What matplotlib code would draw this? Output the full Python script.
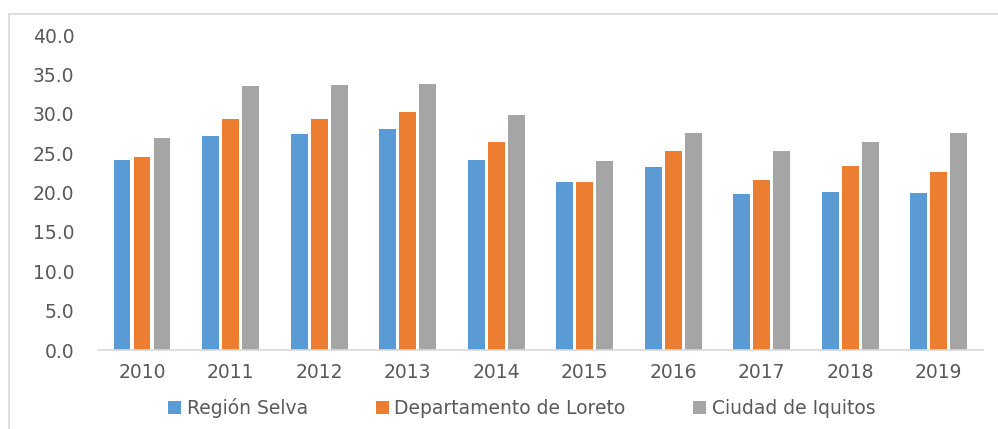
import matplotlib
matplotlib.use("Agg")
import matplotlib.pyplot as plt
import numpy as np
from matplotlib.lines import Line2D

years = ["2010", "2011", "2012", "2013", "2014", "2015", "2016", "2017", "2018", "2019"]
region_selva = [24.2, 27.2, 27.4, 28.1, 24.2, 21.3, 23.2, 19.8, 20.1, 19.9]
loreto = [24.5, 29.3, 29.3, 30.2, 26.4, 21.3, 25.3, 21.6, 23.4, 22.6]
iquitos = [26.9, 33.5, 33.7, 33.8, 29.9, 24.0, 27.6, 25.3, 26.4, 27.6]
series_names = ["Región Selva", "Departamento de Loreto", "Ciudad de Iquitos"]
colors = ["#5B9BD5", "#ED7D31", "#A5A5A5"]

plt.rcParams['font.family'] = ['DejaVu Sans']

fig = plt.figure(figsize=(9.98, 4.29), dpi=100)
ax = fig.add_axes([0.098, 0.184, 0.887, 0.734])

x = np.arange(len(years))
pitch = 0.226
width = 0.19
for i, (vals, name, c) in enumerate(zip([region_selva, loreto, iquitos], series_names, colors)):
    ax.bar(x + (i - 1) * pitch, vals, width=width, color=c, label=name, zorder=2)

ax.set_xlim(-0.5, len(years) - 0.5)
ax.set_ylim(0, 40)
ax.set_yticks(np.arange(0, 40.1, 5))
ax.set_yticklabels([f"{v:.1f}" for v in np.arange(0, 40.1, 5)])
ax.set_xticks(x)
ax.set_xticklabels(years)

for s in ["top", "right", "left"]:
    ax.spines[s].set_visible(False)
ax.spines["bottom"].set_color("#D9D9D9")
ax.spines["bottom"].set_linewidth(1.2)
ax.tick_params(axis="both", length=0, colors="#595959", labelsize=13.5)
ax.tick_params(axis="y", pad=17)
ax.tick_params(axis="x", pad=9)

leg = fig.legend(loc="center", bbox_to_anchor=(0.523, 0.049), ncol=3, frameon=False,
                 fontsize=13.5, handlelength=0.7, handleheight=0.7, handletextpad=0.3,
                 columnspacing=3.6)
for t in leg.get_texts():
    t.set_color("#595959")

# outer border (light gray) like the original chart frame
fig.add_artist(Line2D([9/998, 1.0], [1 - 14/429, 1 - 14/429], transform=fig.transFigure,
                      color="#D9D9D9", lw=1.2))
fig.add_artist(Line2D([9/998, 9/998], [0, 1 - 14/429], transform=fig.transFigure,
                      color="#D9D9D9", lw=1.2))

fig.savefig("out.png", dpi=100)
